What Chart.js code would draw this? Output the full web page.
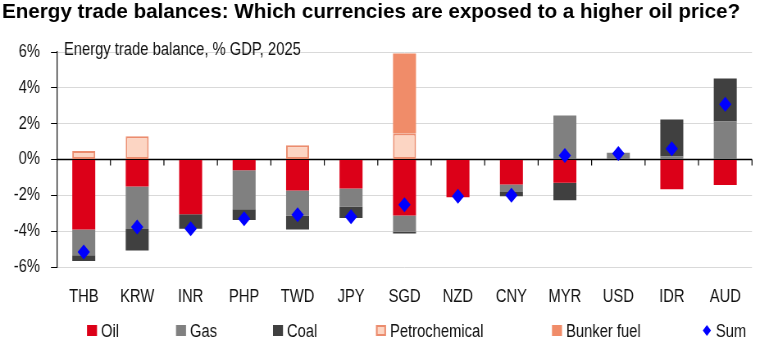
<!DOCTYPE html>
<html>
<head>
<meta charset="utf-8">
<script src="https://cdn.jsdelivr.net/npm/chart.js@4.4.1/dist/chart.umd.min.js"></script>
<style>
  html, body { margin: 0; padding: 0; background: #fff; overflow: hidden; }
  /* the reference uses a narrow face; no narrow font here, so the whole
     chart is drawn wider and squeezed back to 769px */
  #wrap { position: absolute; left: 0; top: 0; width: 938px; height: 346px;
          transform: scaleX(0.8198); transform-origin: 0 0; }
</style>
</head>
<body>
<div id="wrap"><canvas id="chart" width="938" height="346"></canvas></div>
<script>
// values, % of GDP
const currencies = ["THB", "KRW", "INR", "PHP", "TWD", "JPY", "SGD", "NZD", "CNY", "MYR", "USD", "IDR", "AUD"];
const oil = [-3.9, -1.5, -3.05, -0.6, -1.73, -1.62, -3.13, -2.1, -1.4, -1.3, 0, -1.66, -1.42];
const gas = [-1.45, -2.38, 0, -2.18, -1.4, -1.0, -0.9, 0, -0.41, 2.46, 0.37, 0.17, 2.12];
const coal = [-0.32, -1.2, -0.82, -0.6, -0.78, -0.65, -0.1, 0, -0.24, -0.97, 0, 2.06, 2.4];
const petrochemical = [0.47, 1.3, null, null, 0.8, null, 1.45, null, null, null, null, null, null];
const bunkerFuel = [null, null, null, null, null, null, 4.47, null, null, null, null, null, null];
const sum = [-5.16, -3.77, -3.87, -3.31, -3.08, -3.2, -2.52, -2.05, -1.99, 0.22, 0.34, 0.6, 3.09];
const yTicks = [-6, -4, -2, 0, 2, 4, 6];

const TITLE = "Energy trade balances: Which currencies are exposed to a higher oil price?";
const SUBTITLE = "Energy trade balance, % GDP, 2025";

const C_OIL = "rgb(220,0,24)";
const C_GAS = "rgb(128,128,128)";
const C_COAL = "rgb(64,64,64)";
const C_PETRO = "rgb(252,213,195)";
const C_PETRO_LINE = "rgb(235,140,110)";
const C_BUNKER = "rgb(240,140,105)";
const C_SUM = "rgb(0,0,255)";

const S = 769 / 938; // horizontal squeeze
const FONT = "'Liberation Sans', Arial, sans-serif";

// legend slots (page px, left edge of each swatch)
const legendX = [87, 176, 273, 376, 552, 702];
const legendItems = [
  { label: "Oil", fill: C_OIL },
  { label: "Gas", fill: C_GAS },
  { label: "Coal", fill: C_COAL },
  { label: "Petrochemical", fill: C_PETRO, line: C_PETRO_LINE },
  { label: "Bunker fuel", fill: C_BUNKER },
  { label: "Sum", fill: C_SUM, diamond: true },
];

const decor = {
  id: "decor",
  beforeDatasetsDraw(chart) {
    const { ctx, chartArea, scales } = chart;
    const y0 = scales.y.getPixelForValue(0);
    const step = scales.x.getPixelForValue(1) - scales.x.getPixelForValue(0);
    ctx.save();
    ctx.strokeStyle = "#000";
    ctx.lineWidth = 1.5;
    ctx.beginPath();
    ctx.moveTo(chartArea.left, y0);
    ctx.lineTo(chartArea.right, y0);
    ctx.stroke();
    ctx.lineWidth = 1.2;
    currencies.forEach((c, i) => {
      const xb = scales.x.getPixelForValue(i) + step / 2;
      ctx.beginPath();
      ctx.moveTo(xb, y0);
      ctx.lineTo(xb, y0 + 6);
      ctx.stroke();
    });
    ctx.restore();
  },
  afterDraw(chart) {
    const { ctx } = chart;
    ctx.save();
    ctx.textBaseline = "alphabetic";
    // title is not narrow: undo the squeeze for it
    ctx.save();
    ctx.scale(1 / S, 1);
    ctx.fillStyle = "#000";
    ctx.font = "bold 20.6px " + FONT;
    ctx.fillText(TITLE, 2, 18);
    ctx.restore();

    ctx.font = "18px " + FONT;
    ctx.fillStyle = "#111";
    ctx.fillText(SUBTITLE, 64 / S, 55);

    const ly = 325;
    legendItems.forEach((it, i) => {
      const x = legendX[i] / S;
      ctx.fillStyle = it.fill;
      if (it.diamond) {
        ctx.beginPath();
        ctx.moveTo(x + 6, ly);
        ctx.lineTo(x + 11, ly + 5.5);
        ctx.lineTo(x + 6, ly + 11);
        ctx.lineTo(x + 1, ly + 5.5);
        ctx.closePath();
        ctx.fill();
      } else {
        ctx.fillRect(x, ly, 12.2, 11);
        if (it.line) {
          ctx.strokeStyle = it.line;
          ctx.lineWidth = 2;
          ctx.strokeRect(x + 1, ly + 1, 10.2, 9);
        }
      }
      ctx.fillStyle = "#111";
      ctx.font = "18px " + FONT;
      ctx.fillText(it.label, x + 4 / S + 12.2, ly + 12);
    });
    ctx.restore();
  },
};

const barCommon = { stack: "energy", order: 1, barPercentage: 0.43, categoryPercentage: 1 };

new Chart(document.getElementById("chart"), {
  type: "bar",
  data: {
    labels: currencies,
    datasets: [
      { ...barCommon, label: "Oil", data: oil, backgroundColor: C_OIL },
      { ...barCommon, label: "Gas", data: gas, backgroundColor: C_GAS },
      { ...barCommon, label: "Coal", data: coal, backgroundColor: C_COAL },
      {
        ...barCommon, label: "Petrochemical", data: petrochemical,
        backgroundColor: C_PETRO, borderColor: C_PETRO_LINE, borderWidth: 2, borderSkipped: false,
      },
      { ...barCommon, label: "Bunker fuel", data: bunkerFuel, backgroundColor: C_BUNKER },
      {
        type: "line", label: "Sum", data: sum, stack: "sum", order: 0,
        showLine: false, pointStyle: "rectRot", pointRadius: 7.5,
        pointBackgroundColor: C_SUM, pointBorderColor: C_SUM, pointBorderWidth: 0,
      },
    ],
  },
  options: {
    responsive: false,
    animation: false,
    devicePixelRatio: 1,
    layout: { padding: { top: 52, right: 17 / S, left: 0, bottom: 0 } },
    plugins: { legend: { display: false }, tooltip: { enabled: false }, title: { display: false } },
    scales: {
      x: {
        stacked: true,
        grid: { display: false },
        border: { display: false },
        ticks: { color: "#111", padding: 11, font: { family: FONT, size: 18 }, maxRotation: 0, autoSkip: false },
        afterFit: (s) => { s.height = 79; },
      },
      y: {
        stacked: true,
        min: -6,
        max: 6,
        afterBuildTicks: (s) => { s.ticks = yTicks.map((v) => ({ value: v })); },
        grid: { color: "#d9d9d9", lineWidth: 1, tickLength: 6 / S, tickColor: "#000" },
        border: { display: true, color: "#000", width: 1.2 },
        ticks: { color: "#111", padding: 11 / S, font: { family: FONT, size: 18 }, callback: (v) => v + "%" },
        afterFit: (s) => { s.width = 57 / S; },
      },
    },
  },
  plugins: [decor],
});
</script>
</body>
</html>
